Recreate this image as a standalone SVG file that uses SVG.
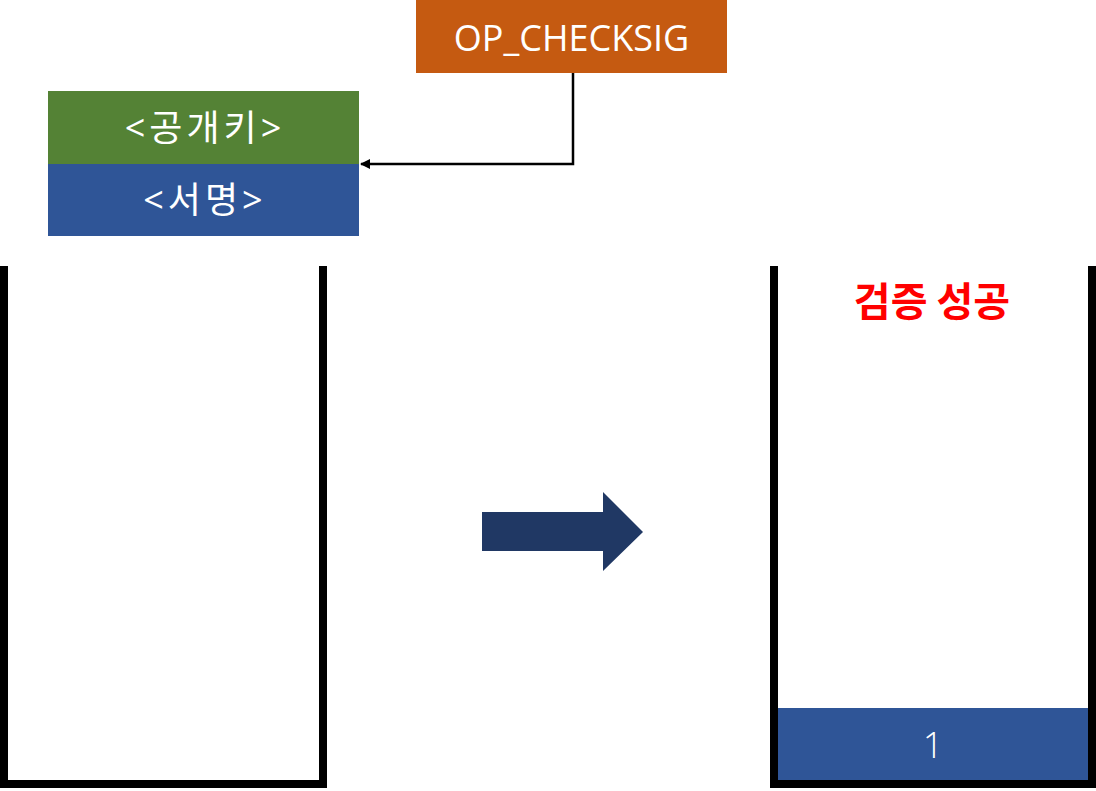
<svg xmlns="http://www.w3.org/2000/svg" width="1096" height="791" viewBox="0 0 1096 791">
<defs>
<style>
.lbl{font-family:"Open Sans","Noto Sans CJK KR",sans-serif;font-size:36px;fill:#fff;text-anchor:middle;dominant-baseline:central}
.kr{letter-spacing:4px}
.wall{fill:#000}
</style>
<marker id="ah" viewBox="0 0 10 10" refX="9" refY="5" markerWidth="4" markerHeight="4" orient="auto-start-reverse" markerUnits="strokeWidth">
<path d="M0,0 L10,5 L0,10 z" fill="#000"/>
</marker>
</defs>
<rect width="1096" height="791" fill="#fff"/>
<g id="op">
<rect x="416" y="0" width="311" height="73" fill="#C55A11"/>
<text class="lbl" x="571.5" y="37" font-size="37">OP_CHECKSIG</text>
</g>
<g id="pubkey">
<rect x="48" y="91" width="311" height="73" fill="#548235"/>
<text class="lbl kr" x="205" y="127">&lt;공개키&gt;</text>
</g>
<g id="sig">
<rect x="48" y="164" width="311" height="72" fill="#2F5597"/>
<text class="lbl kr" x="205" y="199">&lt;서명&gt;</text>
</g>
<g id="stack-before">
<rect class="wall" x="0" y="266" width="8" height="522"/>
<rect class="wall" x="319" y="266" width="8" height="522"/>
<rect class="wall" x="0" y="780" width="327" height="8"/>
</g>
<g id="transition">
<polygon points="482,512 603,512 603,492 643,532 603,571 603,551 482,551" fill="#203864"/>
</g>
<g id="stack-after">
<rect class="wall" x="770" y="266" width="8" height="522"/>
<rect class="wall" x="1088" y="266" width="8" height="522"/>
<rect class="wall" x="770" y="780" width="326" height="8"/>
<rect x="778" y="708" width="310" height="72" fill="#2F5597"/>
<text class="lbl" x="933" y="744" font-weight="300">1</text>
<text x="932" y="299" font-family="'Noto Sans CJK KR',sans-serif" font-weight="bold" font-size="40" fill="#FF0000" text-anchor="middle" dominant-baseline="central">검증 성공</text>
</g>
<g id="connectors">
<path d="M573,73 V164 H361" fill="none" stroke="#000" stroke-width="2.5" marker-end="url(#ah)"/>
</g>
</svg>
